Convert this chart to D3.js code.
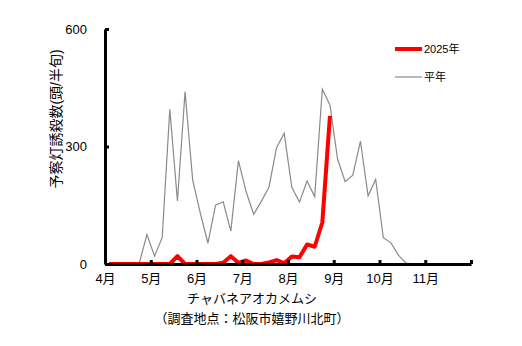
<!DOCTYPE html>
<html>
<head>
<meta charset="utf-8">
<script src="https://cdn.jsdelivr.net/npm/d3@7"></script>
<style>
  body { margin: 0; background: #fff; }
  svg text { font-family: "Liberation Sans", Arial, "Noto Sans CJK JP", sans-serif; fill: #000; }
</style>
</head>
<body>
<svg id="chart" width="522" height="346"></svg>
<script>
// Half-month periods (半旬, 6 per month) from April through November
const months = ["4月", "5月", "6月", "7月", "8月", "9月", "10月", "11月"];
const yTicks = [0, 300, 600];

// 2025 trap catches per period (season in progress, through end of August)
const catch2025 = [
  0, 0, 0, 0, 0, 0,
  0, 0, 0, 20, 0, 0,
  0, 0, 0, 3, 20, 3,
  9, 0, 0, 4, 10, 2,
  19, 17, 50, 44, 106, 378
];

// Long-term average (平年) per period
const catchNormal = [
  0, 0, 1, 2, 3, 75,
  20, 68, 395, 161, 440, 214,
  130, 53, 150, 159, 84, 264,
  185, 127, 160, 196, 297, 334,
  196, 158, 212, 172, 446, 406,
  268, 210, 227, 314, 174, 216,
  67, 54, 22, 2, 0, 0,
  0, 0, 0, 0, 0, 0
];

const svg = d3.select("#chart");
const x = d3.scaleLinear().domain([0, 48]).range([105, 471]);
const y = d3.scaleLinear().domain([0, 600]).range([264, 29]);

const line = d3.line()
  .x((d, i) => x(i + 0.5))
  .y(d => y(d));

// average line
svg.append("path")
  .datum(catchNormal)
  .attr("d", line)
  .attr("fill", "none")
  .attr("stroke", "#8a8a8a")
  .attr("stroke-width", 1.2);

// 2025 line
svg.append("path")
  .datum(catch2025)
  .attr("d", line)
  .attr("fill", "none")
  .attr("stroke", "#ff0000")
  .attr("stroke-width", 4)
  .attr("stroke-linejoin", "round");

// y axis
const yAxis = svg.append("g")
  .attr("transform", "translate(105,0)")
  .call(d3.axisLeft(y).tickValues(yTicks).tickSizeInner(-4).tickSizeOuter(0).tickPadding(18));
yAxis.select(".domain").attr("stroke", "#000").attr("stroke-width", 3);
yAxis.selectAll(".tick line").attr("stroke", "#000").attr("stroke-width", 3);
yAxis.selectAll("text").style("font-size", "13px");

// x axis with month boundaries
const xAxis = svg.append("g")
  .attr("transform", "translate(0,264)")
  .call(d3.axisBottom(x)
    .tickValues(d3.range(0, 49, 6))
    .tickFormat(d => months[d / 6] || "")
    .tickSizeInner(-4).tickSizeOuter(0).tickPadding(10));
xAxis.select(".domain").attr("stroke", "#000").attr("stroke-width", 3);
xAxis.selectAll(".tick line").attr("stroke", "#000").attr("stroke-width", 3);
xAxis.selectAll("text").style("font-size", "13px");

// y axis title
svg.append("text")
  .attr("transform", "translate(56,119) rotate(-90)")
  .attr("text-anchor", "middle")
  .attr("dominant-baseline", "central")
  .style("font-size", "14px")
  .text("予察灯誘殺数(頭/半旬)");

// x axis titles
svg.append("text")
  .attr("x", 252).attr("y", 298)
  .attr("text-anchor", "middle")
  .attr("dominant-baseline", "central")
  .style("font-size", "13px")
  .text("チャバネアオカメムシ");
svg.append("text")
  .attr("x", 252).attr("y", 318)
  .attr("text-anchor", "middle")
  .attr("dominant-baseline", "central")
  .style("font-size", "13px")
  .text("（調査地点：松阪市嬉野川北町）");

// legend
const legend = [
  { label: "2025年", color: "#ff0000", width: 4, y: 49 },
  { label: "平年", color: "#8a8a8a", width: 1.2, y: 77 }
];
const lg = svg.append("g");
lg.selectAll("line").data(legend).join("line")
  .attr("x1", 395).attr("x2", 422)
  .attr("y1", d => d.y).attr("y2", d => d.y)
  .attr("stroke", d => d.color)
  .attr("stroke-width", d => d.width);
lg.selectAll("text").data(legend).join("text")
  .attr("x", 424).attr("y", d => d.y)
  .attr("dominant-baseline", "central")
  .style("font-size", "11px")
  .text(d => d.label);
</script>
</body>
</html>
